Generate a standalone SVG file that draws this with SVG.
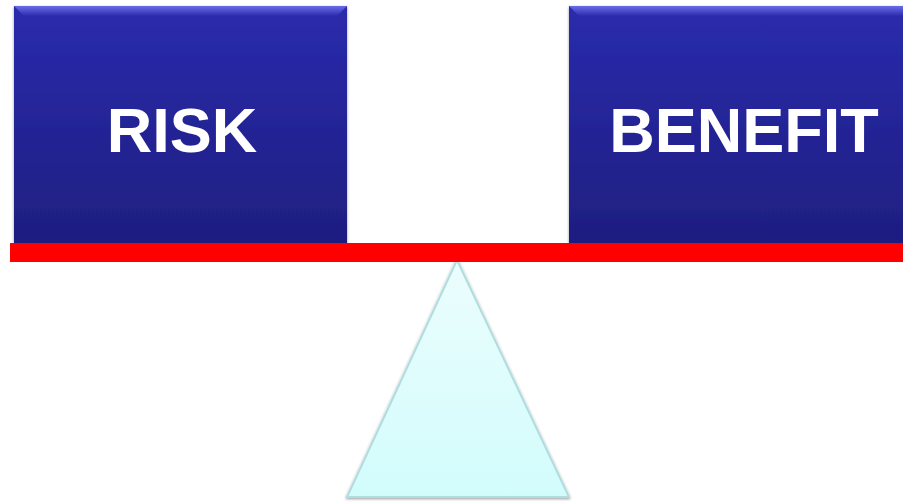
<svg xmlns="http://www.w3.org/2000/svg" width="903" height="503" viewBox="0 0 903 503">
<style>
.box{fill:url(#boxg);}
.lbl{font-family:"Liberation Sans",Arial,sans-serif;font-weight:bold;font-size:63px;fill:#ffffff;text-anchor:middle;}
</style>
<defs>
<linearGradient id="boxg" x1="0" y1="0" x2="0" y2="1">
<stop offset="0" stop-color="#2a2bad"/>
<stop offset="1" stop-color="#1e1e80"/>
</linearGradient>
<linearGradient id="bevel" x1="0" y1="0" x2="0" y2="1">
<stop offset="0" stop-color="#6a6ee8"/>
<stop offset="1" stop-color="#2a2bad"/>
</linearGradient>
<linearGradient id="triG" x1="0" y1="0" x2="0" y2="1">
<stop offset="0" stop-color="#ecfdfd"/>
<stop offset="1" stop-color="#d2fcfc"/>
</linearGradient>
<filter id="sh" x="-5%" y="-5%" width="110%" height="110%">
<feGaussianBlur in="SourceAlpha" stdDeviation="1.5"/>
<feOffset dx="0" dy="1"/>
<feComponentTransfer><feFuncA type="linear" slope="0.4"/></feComponentTransfer>
<feMerge><feMergeNode/><feMergeNode in="SourceGraphic"/></feMerge>
</filter>
</defs>
<rect width="903" height="503" fill="#ffffff"/>
<g id="risk" filter="url(#sh)">
<rect class="box" x="14" y="6" width="333" height="238"/>
<path d="M14,6 H347 L337,16 H24 Z" fill="url(#bevel)"/>
<text class="lbl" x="182" y="152">RISK</text>
</g>
<g id="benefit" filter="url(#sh)">
<rect class="box" x="569" y="6" width="345" height="238"/>
<path d="M569,6 H914 L904,16 H579 Z" fill="url(#bevel)"/>
<text class="lbl" x="744" y="152">BENEFIT</text>
</g>
<g id="fulcrum" filter="url(#sh)">
<polygon points="457,260 569,497 347,497" fill="url(#triG)" stroke="#b0dde0" stroke-width="2"/>
</g>
<g id="beam">
<rect x="10" y="243" width="893" height="19" fill="#ff0000"/>
</g>
</svg>
